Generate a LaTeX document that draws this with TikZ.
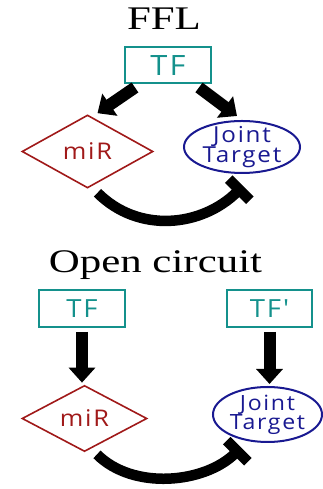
\documentclass[tikz,border=0pt]{standalone}
\usepackage{fontspec}
\usepackage{tikz}
\usetikzlibrary{arrows.meta,shapes.geometric,calc}
\setmainfont{Liberation Serif}
\newfontfamily\titlefont[FakeStretch=1.3]{Liberation Serif}
\newfontfamily\handfont[FakeStretch=1.1,LetterSpace=8]{Open Sans}
\definecolor{tfteal}{RGB}{20,145,140}
\definecolor{mirred}{RGB}{160,25,25}
\definecolor{targetblue}{RGB}{25,25,145}

\begin{document}
\begin{tikzpicture}[
  x=1pt,y=1pt,
  title/.style={font=\titlefont\fontsize{33}{36}\selectfont,anchor=base},
  tfbox/.style={rectangle,draw=tfteal,line width=2pt,text=tfteal,minimum width=86pt,minimum height=36pt,inner sep=0pt,font=\handfont\fontsize{28}{30}\selectfont},
  mirnode/.style={diamond,draw=mirred,line width=1.6pt,text=mirred,inner sep=0pt,font=\handfont\fontsize{23}{24}\selectfont},
  target/.style={ellipse,draw=targetblue,line width=2pt,text=targetblue,inner sep=-8pt,align=center,font=\handfont\fontsize{22}{20}\selectfont},
  fat/.style={-{Triangle[length=15pt,width=26pt]},line width=12pt},
  inhib/.style={-{Bar[width=30pt]},line width=10.5pt}
]
\useasboundingbox (0,0) rectangle (323,489);
% FFL
\node[title] (ffl) at (164,459) {FFL};
\node[tfbox] (tfa) at (168,423.5) {TF};
\node[mirnode,minimum width=131pt,minimum height=73pt] (mira) at (87.5,337.5) {miR};
\node[target,minimum width=116pt,minimum height=52pt] (jta) at (242,342) {Joint\\Target};
\draw[fat] ([xshift=-33pt,yshift=-3pt]tfa.south) -- ([xshift=10pt,yshift=1pt]mira.north);
\draw[fat] ([xshift=31pt,yshift=-3pt]tfa.south) -- ([xshift=-5pt,yshift=4pt]jta.north);
\draw[inhib] ([xshift=10pt,yshift=-4pt]mira.south) .. controls +(-45:58pt) and +(225:58pt) .. ([xshift=1pt,yshift=-12pt]jta.south);
% Open circuit
\node[title] (open) at (155.5,216) {Open circuit};
\node[tfbox,minimum height=37pt,font=\handfont\fontsize{25}{27}\selectfont] (tfb) at (82,180.5) {TF};
\node[tfbox,minimum width=85pt,minimum height=37pt,font=\handfont\fontsize{25}{27}\selectfont] (tfc) at (269.5,180.5) {TF'};
\node[mirnode,minimum width=125pt,minimum height=63pt] (mirb) at (84.5,70.5) {miR};
\node[target,minimum width=109pt,minimum height=55pt,font=\handfont\fontsize{21}{19}\selectfont] (jtb) at (267.5,74.5) {Joint\\Target};
\draw[fat] ($(tfb.south)+(0,-4)$) -- ($(tfb.south |- mirb.north)+(0,2)$);
\draw[fat] ($(tfc.south)+(0,-4)$) -- ($(tfc.south |- jtb.north)+(0,2)$);
\draw[inhib] ($(mirb.south)+(12.5,-2)$) .. controls +(-45:51pt) and +(225:51pt) .. ($(jtb.south)+(-26.5,-4.5)$);
\end{tikzpicture}
\end{document}
